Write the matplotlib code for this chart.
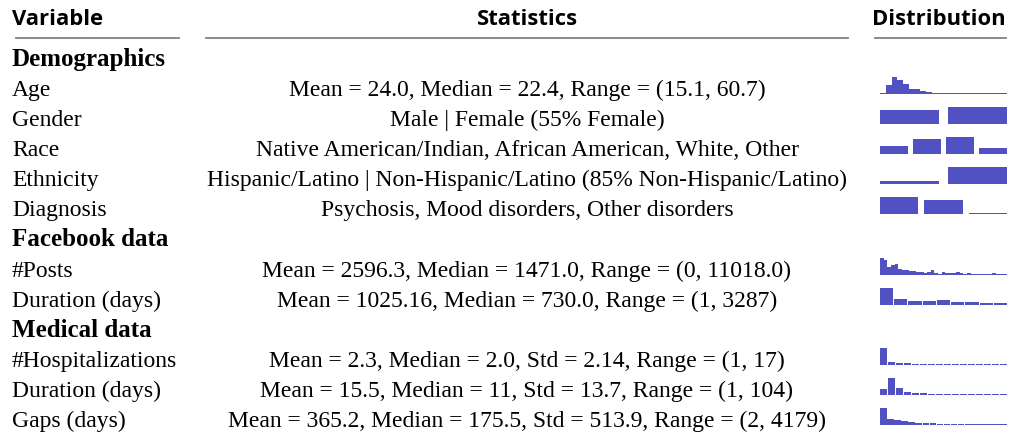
import matplotlib
matplotlib.use("Agg")
import matplotlib.pyplot as plt
from matplotlib.lines import Line2D

# ---------------- data ----------------
columns = ["Variable", "Statistics", "Distribution"]
sections = ["Demographics", "Facebook data", "Medical data"]
variables = ["Age", "Gender", "Race", "Ethnicity", "Diagnosis",
             "#Posts", "Duration (days)",
             "#Hospitalizations", "Duration (days)", "Gaps (days)"]
section_of = [0, 0, 0, 0, 0, 1, 1, 2, 2, 2]
statistics = [
    "Mean = 24.0, Median = 22.4, Range = (15.1, 60.7)",
    "Male | Female (55% Female)",
    "Native American/Indian, African American, White, Other",
    "Hispanic/Latino | Non-Hispanic/Latino (85% Non-Hispanic/Latino)",
    "Psychosis, Mood disorders, Other disorders",
    "Mean = 2596.3, Median = 1471.0, Range = (0, 11018.0)",
    "Mean = 1025.16, Median = 730.0, Range = (1, 3287)",
    "Mean = 2.3, Median = 2.0, Std = 2.14, Range = (1, 17)",
    "Mean = 15.5, Median = 11, Std = 13.7, Range = (1, 104)",
    "Mean = 365.2, Median = 175.5, Std = 513.9, Range = (2, 4179)",
]
categorical = [False, True, True, True, True, False, False, False, False, False]

age_hist = [3, 25, 48, 40, 28, 15, 15, 8, 5, 4, 4, 3, 2, 2, 2, 2, 2, 2, 2, 2, 2, 2]
gender_hist = [45, 55]
race_hist = [17, 33, 37, 13]
ethnicity_hist = [15, 85]
diagnosis_hist = [48, 42, 3]
posts_hist = [50, 44, 22, 29, 32, 17, 14, 14, 11, 11, 8, 8, 5, 8, 14, 5, 2, 8,
              5, 5, 5, 8, 5, 2, 5, 2, 3, 2, 3, 3, 2, 5, 3, 2, 3]
fb_duration_hist = [50, 17, 11, 11, 14, 8, 8, 6, 6]
hosp_hist = [50, 8, 5, 5, 2, 2, 2, 2, 2, 2, 2, 2, 2, 2, 2, 2]
med_duration_hist = [18, 51, 21, 9, 6, 6, 2, 2, 2, 2, 2, 2, 2, 2, 2, 2]
gaps_hist = [51, 18, 15, 12, 9, 5, 5, 6, 3, 2, 2, 2, 2, 2, 2, 2, 2, 2]
distributions = [age_hist, gender_hist, race_hist, ethnicity_hist, diagnosis_hist,
                 posts_hist, fb_duration_hist, hosp_hist, med_duration_hist, gaps_hist]

# ---------------- layout ----------------
W, H = 1011, 438
fig = plt.figure(figsize=(W / 100, H / 100), dpi=100)

def fx(px):
    return px / W

def fy(py):
    return 1 - py / H

BODY = ["Liberation Serif", "DejaVu Serif"]
HEAD = ["Open Sans", "DejaVu Sans"]
FS = 17
FS_SEC = 18
FS_HEAD = 15.8
BAR = "#5151c1"
LINE = "#808080"

# header
fig.text(fx(12), fy(25), columns[0], family=HEAD, weight="bold", fontsize=FS_HEAD,
         ha="left", va="baseline")
fig.text(fx(527), fy(25), columns[1], family=HEAD, weight="bold", fontsize=FS_HEAD,
         ha="center", va="baseline")
fig.text(fx(939), fy(25), columns[2], family=HEAD, weight="bold", fontsize=FS_HEAD,
         ha="center", va="baseline")
for x0, x1 in [(16, 179), (206, 848), (875, 1006)]:
    fig.add_artist(Line2D([fx(x0), fx(x1)], [fy(38), fy(38)], color=LINE,
                          lw=1.3, transform=fig.transFigure))

# rows
first_base = 66.0
pitch = 30.08
row = 0
prev_sec = -1
for i, name in enumerate(variables):
    if section_of[i] != prev_sec:
        prev_sec = section_of[i]
        yb = first_base + row * pitch
        fig.text(fx(12), fy(yb), sections[prev_sec], family=BODY, weight="bold",
                 fontsize=FS_SEC, ha="left", va="baseline")
        row += 1
    yb = first_base + row * pitch
    fig.text(fx(12), fy(yb), name, family=BODY, fontsize=FS, ha="left", va="baseline")
    fig.text(fx(527), fy(yb), statistics[i], family=BODY, fontsize=FS,
             ha="center", va="baseline")
    # distribution
    base = yb - 2
    ax = fig.add_axes([fx(880), fy(base), fx(127), 17 / H])
    vals = distributions[i]
    n = len(vals)
    if categorical[i]:
        w = 0.86
    elif n > 20:
        w = 1.0
    else:
        w = 0.92
    ax.bar(range(n), vals, width=w, color=BAR, linewidth=0)
    ax.set_xlim(-w / 2, n - 1 + w / 2)
    ax.set_ylim(0, max(vals))
    ax.axis("off")
    row += 1

fig.savefig("out.png", dpi=100)
